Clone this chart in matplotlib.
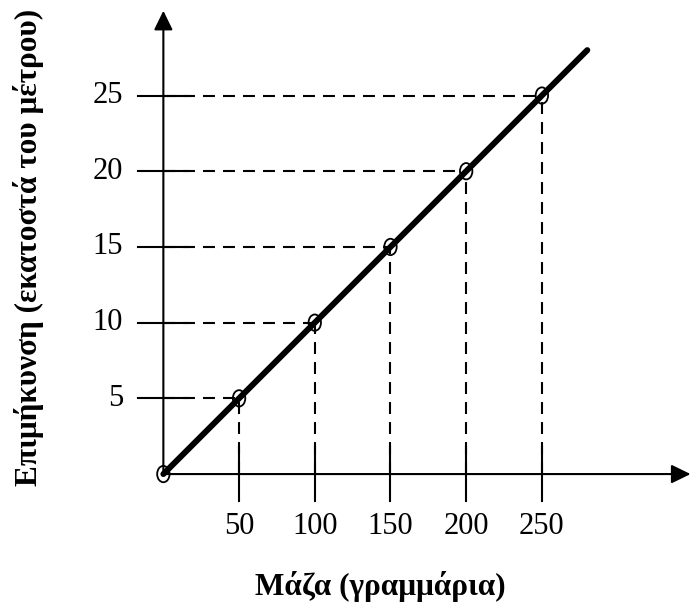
import matplotlib
matplotlib.use("Agg")
import matplotlib.pyplot as plt
from matplotlib.patches import Ellipse

plt.rcParams['font.family'] = ['Liberation Serif', 'DejaVu Serif']
plt.rcParams['lines.scale_dashes'] = False

# data
mass = [0, 50, 100, 150, 200, 250]
extension = [0, 5, 10, 15, 20, 25]
x_ticks = [50, 100, 150, 200, 250]
y_ticks = [5, 10, 15, 20, 25]
line_x = [0, 280]
line_y = [0, 28]
x_label = "Μάζα (γραμμάρια)"
y_label = "Επιμήκυνση (εκατοστά του μέτρου)"

fig = plt.figure(figsize=(6.91, 6.02), dpi=100)
ax = fig.add_axes([0, 0, 1, 1])
ax.set_xlim(-107.9, 348.5)
ax.set_ylim(-8.45, 31.31)
ax.axis('off')

# axes with arrow heads
arrow = dict(arrowstyle='-|>,head_length=0.45,head_width=0.22', lw=1.5,
             color='black', mutation_scale=26, shrinkA=0, shrinkB=0)
ax.annotate('', xy=(348.2, 0), xytext=(0, 0), arrowprops=arrow)
ax.annotate('', xy=(0, 30.6), xytext=(0, 0), arrowprops=arrow)

# ticks crossing the axes, dashed guides to the points
for xv, yv in zip(mass[1:], extension[1:]):
    ax.plot([-16.5, 16.5], [yv, yv], color='black', lw=1.5)
    ax.plot([xv, xv], [-1.78, 1.78], color='black', lw=1.5)
    ax.plot([0, xv], [yv, yv], color='black', lw=1.5, dashes=(8.6, 5.8))
    ax.plot([xv, xv], [0, yv], color='black', lw=1.5, dashes=(8.6, 5.8))

ax.plot(line_x, line_y, color='black', lw=4.3, solid_capstyle='round')

for xv, yv in zip(mass, extension):
    ax.add_patch(Ellipse((xv, yv), 8.2, 1.08, fill=False, lw=1.3, color='black'))

for t in x_ticks:
    ax.text(t, -3.45, str(t), ha='center', va='center', fontsize=22)
for t in y_ticks:
    ax.text(-26.6, t, str(t), ha='right', va='center', fontsize=22)

ax.text(143.3, -7.45, x_label, ha='center', va='center', fontsize=22.5, fontweight='bold')
ax.text(-89.0, 14.95, y_label, ha='center', va='center', rotation=90,
        fontsize=22.5, fontweight='bold')

fig.savefig("out.png", dpi=100)
